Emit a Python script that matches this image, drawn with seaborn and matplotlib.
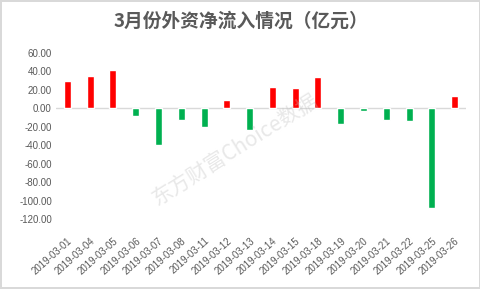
import matplotlib
matplotlib.use("Agg")
import matplotlib.pyplot as plt
import seaborn as sns
import pandas as pd

dates = ["2019-03-01", "2019-03-04", "2019-03-05", "2019-03-06", "2019-03-07",
         "2019-03-08", "2019-03-11", "2019-03-12", "2019-03-13", "2019-03-14",
         "2019-03-15", "2019-03-18", "2019-03-19", "2019-03-20", "2019-03-21",
         "2019-03-22", "2019-03-25", "2019-03-26"]
values = [30.0, 35.3, 41.5, -8.3, -39.8, -12.7, -20.3, 9.0, -23.5, 23.1,
          22.0, 34.3, -17.0, -2.9, -12.7, -13.8, -108.0, 13.7]
yticks = [60, 40, 20, 0, -20, -40, -60, -80, -100, -120]
title = "3月份外资净流入情况（亿元）"
watermark = "东方财富Choice数据"

sns.set_style("white")
plt.rcParams["font.family"] = ["Noto Sans CJK SC", "DejaVu Sans"]

df = pd.DataFrame({"date": dates, "value": values})
colors = {d: ("#FF0000" if v >= 0 else "#00B050") for d, v in zip(dates, values)}

fig = plt.figure(figsize=(4.81, 2.89), dpi=100)
fig.patch.set_facecolor("white")
fig.patch.set_edgecolor("#D9D9D9")
fig.patch.set_linewidth(1.5)
ax = fig.add_axes([0.1164, 0.2422, 0.8524, 0.5744])

sns.barplot(data=df, x="date", y="value", hue="date", palette=colors,
            legend=False, width=0.31, ax=ax, saturation=1)

ax.set_ylim(-120, 60)
ax.set_xlim(-0.5, len(dates) - 0.5)
ax.set_yticks(yticks)
ax.set_yticklabels([f"{t:.2f}" for t in yticks], fontsize=7, color="#595959",
                   family=["Liberation Sans", "DejaVu Sans"])
ax.set_xticks(range(len(dates)))
ax.set_xticklabels(dates, rotation=42, ha="right", rotation_mode="anchor",
                   fontsize=7, color="#595959", family=["Liberation Sans", "DejaVu Sans"])
ax.tick_params(axis="both", length=0, pad=3)
ax.tick_params(axis="x", pad=12)
for s in ax.spines.values():
    s.set_visible(False)
ax.axhline(0, color="#D9D9D9", lw=1, zorder=0)
ax.set_xlabel("")
ax.set_ylabel("")
ax.grid(False)

fig.text(0.5, 0.925, title, ha="center", va="center", fontsize=13.5,
         fontweight="bold", color="#595959")
fig.text(0.49, 0.48, watermark, ha="center", va="center", fontsize=15,
         rotation=32, color="#BFBFBF", alpha=0.35)

fig.savefig("out.png", dpi=100, facecolor=fig.get_facecolor(),
            edgecolor=fig.get_edgecolor())
